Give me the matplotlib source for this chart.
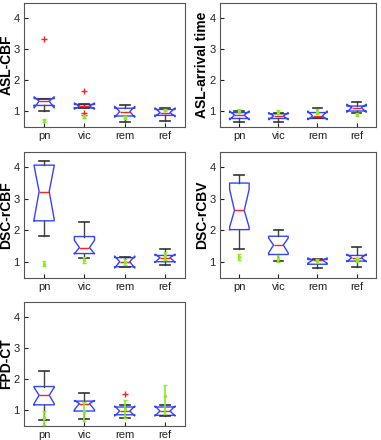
import numpy as np
import matplotlib
matplotlib.use("Agg")
import matplotlib.pyplot as plt

plt.rcParams['font.family'] = ['Liberation Sans', 'DejaVu Sans']

# ===================== DATOS =====================
grupos = ['pn', 'vic', 'rem', 'ref']
paneles = ['ASL-CBF', 'ASL-arrival time', 'DSC-rCBF', 'DSC-rCBV', 'FPD-CT']

# por panel: [pn, vic, rem, ref]
q1 = {
    'ASL-CBF':          [1.18, 1.10, 0.84, 0.86],
    'ASL-arrival time': [0.76, 0.76, 0.76, 1.00],
    'DSC-rCBF':         [2.30, 1.26, 0.84, 1.00],
    'DSC-rCBV':         [2.02, 1.23, 0.92, 1.02],
    'FPD-CT':           [1.16, 0.96, 0.84, 0.82],
}
mediana = {
    'ASL-CBF':          [1.32, 1.16, 0.98, 0.95],
    'ASL-arrival time': [0.87, 0.84, 0.84, 1.11],
    'DSC-rCBF':         [3.23, 1.45, 1.00, 1.13],
    'DSC-rCBV':         [2.63, 1.53, 1.05, 1.13],
    'FPD-CT':           [1.47, 1.20, 0.96, 0.96],
}
q3 = {
    'ASL-CBF':          [1.40, 1.21, 1.09, 1.05],
    'ASL-arrival time': [0.95, 0.91, 0.95, 1.16],
    'DSC-rCBF':         [4.07, 1.80, 1.13, 1.20],
    'DSC-rCBV':         [3.50, 1.81, 1.07, 1.20],
    'FPD-CT':           [1.75, 1.28, 1.09, 1.09],
}
notch_bajo = {
    'ASL-CBF':          [1.10, 1.06, 0.80, 0.82],
    'ASL-arrival time': [0.72, 0.72, 0.72, 0.96],
    'DSC-rCBF':         [2.35, 1.25, 0.80, 0.98],
    'DSC-rCBV':         [2.10, 1.28, 0.95, 1.00],
    'FPD-CT':           [1.20, 1.00, 0.80, 0.80],
}
notch_alto = {
    'ASL-CBF':          [1.46, 1.26, 1.15, 1.10],
    'ASL-arrival time': [1.00, 0.95, 1.00, 1.22],
    'DSC-rCBF':         [4.05, 1.68, 1.18, 1.24],
    'DSC-rCBV':         [3.30, 1.75, 1.12, 1.24],
    'FPD-CT':           [1.72, 1.30, 1.12, 1.12],
}
bigote_bajo = {
    'ASL-CBF':          [1.00, 1.10, 0.65, 0.68],
    'ASL-arrival time': [0.66, 0.65, 0.77, 0.95],
    'DSC-rCBF':         [1.82, 1.13, 0.84, 0.89],
    'DSC-rCBV':         [1.39, 1.02, 0.81, 0.84],
    'FPD-CT':           [0.67, 0.69, 0.74, 0.80],
}
bigote_alto = {
    'ASL-CBF':          [1.40, 1.24, 1.19, 1.11],
    'ASL-arrival time': [1.00, 0.95, 1.10, 1.29],
    'DSC-rCBF':         [4.21, 2.27, 1.16, 1.41],
    'DSC-rCBV':         [3.77, 2.02, 1.10, 1.48],
    'FPD-CT':           [2.25, 1.55, 1.16, 1.16],
}
atipicos = {
    'ASL-CBF':          [[3.33], [1.65, 0.93, 0.88], [], []],
    'ASL-arrival time': [[], [], [], []],
    'DSC-rCBF':         [[], [], [], []],
    'DSC-rCBV':         [[], [], [], []],
    'FPD-CT':           [[], [], [1.50], []],
}
# rango verde (min, centro, max)
verde_bajo = {
    'ASL-CBF':          [0.65, 0.78, 0.75, 1.00],
    'ASL-arrival time': [0.94, 0.92, 0.90, 0.85],
    'DSC-rCBF':         [0.85, 0.95, 0.90, 1.05],
    'DSC-rCBV':         [1.05, 1.00, 0.95, 1.00],
    'FPD-CT':           [0.50, 0.65, 0.75, 0.85],
}
verde_centro = {
    'ASL-CBF':          [0.70, 0.83, 0.80, 1.04],
    'ASL-arrival time': [0.99, 0.97, 0.97, 0.90],
    'DSC-rCBF':         [0.93, 1.05, 1.00, 1.17],
    'DSC-rCBV':         [1.15, 1.10, 1.02, 1.06],
    'FPD-CT':           [0.72, 0.95, 1.02, 1.45],
}
verde_alto = {
    'ASL-CBF':          [0.75, 0.88, 0.85, 1.08],
    'ASL-arrival time': [1.05, 1.02, 1.05, 0.95],
    'DSC-rCBF':         [1.02, 1.15, 1.10, 1.30],
    'DSC-rCBV':         [1.25, 1.20, 1.10, 1.12],
    'FPD-CT':           [0.95, 1.25, 1.30, 1.80],
}

# ===================== GRAFICO =====================
fig = plt.figure(figsize=(3.81, 4.40), dpi=100)
posiciones = {
    'ASL-CBF':          [0.063, 0.711, 0.423, 0.282],
    'ASL-arrival time': [0.577, 0.711, 0.410, 0.282],
    'DSC-rCBF':         [0.063, 0.368, 0.423, 0.286],
    'DSC-rCBV':         [0.577, 0.368, 0.410, 0.286],
    'FPD-CT':           [0.063, 0.032, 0.423, 0.282],
}

x = np.arange(1, len(grupos) + 1)

for nombre in paneles:
    ax = fig.add_axes(posiciones[nombre])
    stats = []
    for i in range(len(grupos)):
        stats.append({
            'q1': q1[nombre][i], 'med': mediana[nombre][i], 'q3': q3[nombre][i],
            'cilo': notch_bajo[nombre][i], 'cihi': notch_alto[nombre][i],
            'whislo': bigote_bajo[nombre][i], 'whishi': bigote_alto[nombre][i],
            'fliers': atipicos[nombre][i],
        })
    ax.bxp(stats, positions=x, widths=0.5, shownotches=True,
           boxprops=dict(color='#3344ff', linewidth=1.0),
           medianprops=dict(color='#ff2222', linewidth=1.0),
           whiskerprops=dict(color='#444444', linewidth=1.0),
           capprops=dict(color='#333333', linewidth=1.2),
           flierprops=dict(marker='+', markeredgecolor='#ff2222', markersize=4, linestyle='none'),
           capwidths=0.25)

    vb = np.array(verde_bajo[nombre])
    vc = np.array(verde_centro[nombre])
    va = np.array(verde_alto[nombre])
    ax.errorbar(x, vc, yerr=[vc - vb, va - vc], fmt='.', color='#88ee22',
                markersize=3, elinewidth=1.2, capsize=1.5, capthick=1.0, zorder=4)

    ax.set_xlim(0.5, 4.5)
    ax.set_ylim(0.48, 4.48)
    ax.set_yticks([1, 2, 3, 4])
    ax.set_xticks(x)
    ax.set_xticklabels(grupos)
    ax.tick_params(direction='in', length=3, labelsize=8, colors='#222222', pad=3)
    for s in ax.spines.values():
        s.set_color('#555555')
        s.set_linewidth(0.8)
    ax.set_ylabel(nombre, fontsize=10, fontweight='bold', va='center')
    ancho_px = posiciones[nombre][2] * 381
    ax.yaxis.set_label_coords(-17.5 / ancho_px, 0.5)

plt.savefig('out.png', dpi=100)
